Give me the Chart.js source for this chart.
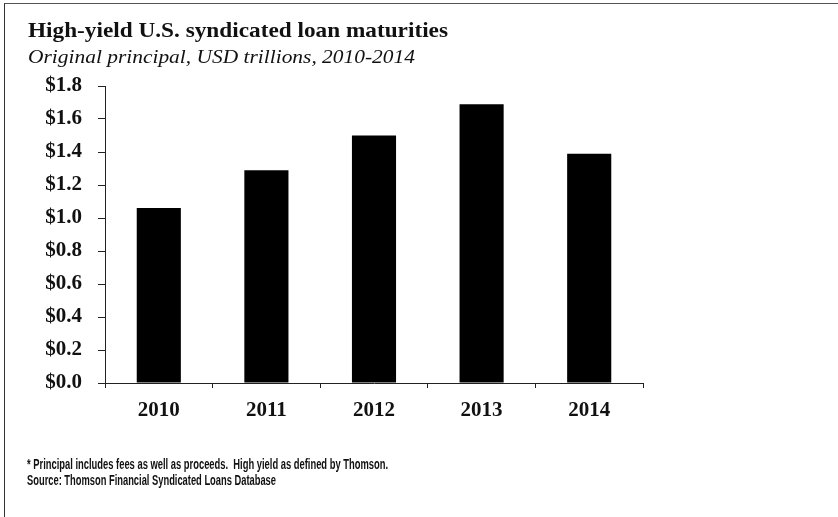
<!DOCTYPE html>
<html><head><meta charset="utf-8">
<script src="https://cdn.jsdelivr.net/npm/chart.js@4.4.1/dist/chart.umd.min.js"></script>
<style>
html,body{margin:0;padding:0;background:#fff;}
#wrap{position:relative;width:838px;height:517px;overflow:hidden;background:#fff;}
#frame{position:absolute;left:4px;top:3px;width:850px;height:530px;border-left:1.5px solid #333;border-top:1.5px solid #555;box-sizing:border-box;}
canvas{position:absolute;left:0;top:0;}
.t{position:absolute;white-space:nowrap;transform-origin:0 0;color:#111;line-height:1;}
#title{left:28px;top:20px;font-family:"Liberation Serif";font-weight:bold;font-size:21px;}
#subtitle{left:28px;top:47px;font-family:"Liberation Serif";font-style:italic;font-size:19px;}
.fn{left:27px;font-family:"Liberation Sans";font-weight:bold;font-size:14px;}
#fn1{top:457px;}
#fn2{top:473px;}
</style></head>
<body>
<div id="wrap">
  <div id="frame"></div>
  <canvas id="c" width="838" height="517"></canvas>
  <div class="t" id="title" data-w="420">High-yield U.S. syndicated loan maturities</div>
  <div class="t" id="subtitle" data-w="387">Original principal, USD trillions, 2010-2014</div>
  <div class="t fn" id="fn1" data-w="361">* Principal includes fees as well as proceeds.&nbsp; High yield as defined by Thomson.</div>
  <div class="t fn" id="fn2" data-w="249">Source: Thomson Financial Syndicated Loans Database</div>
</div>
<script>
const categories = ['2010', '2011', '2012', '2013', '2014'];
const principal = [1.06, 1.29, 1.50, 1.69, 1.39];
const yMin = 0, yMax = 1.8, yStep = 0.2;

document.querySelectorAll('[data-w]').forEach(el => {
  const w = el.getBoundingClientRect().width;
  const target = parseFloat(el.dataset.w);
  el.style.transform = 'scaleX(' + (target / w) + ')';
});

const axisColor = '#222';
const tickFont = { family: 'Liberation Serif', weight: 'bold', size: 21 };

new Chart(document.getElementById('c'), {
  type: 'bar',
  data: {
    labels: categories,
    datasets: [{
      data: principal,
      backgroundColor: '#000',
      borderWidth: 0,
      categoryPercentage: 1,
      barPercentage: 0.41
    }]
  },
  options: {
    responsive: false,
    animation: false,
    devicePixelRatio: 1,
    layout: { padding: { left: 0, top: 86, right: 195, bottom: 84 } },
    plugins: { legend: { display: false }, tooltip: { enabled: false }, title: { display: false } },
    scales: {
      x: {
        offset: true,
        grid: { display: true, drawOnChartArea: false, drawTicks: true, tickLength: 5, color: axisColor, offset: true },
        border: { display: true, color: axisColor, width: 1 },
        ticks: { font: tickFont, color: '#111', padding: 10, maxRotation: 0 },
        afterFit(s) { s.height = 50; }
      },
      y: {
        min: yMin, max: yMax,
        grid: { display: true, drawOnChartArea: false, drawTicks: true, tickLength: 7, color: axisColor },
        border: { display: true, color: axisColor, width: 1 },
        ticks: { stepSize: yStep, font: tickFont, color: '#111', padding: 16, autoSkip: false,
                 callback: v => '$' + Number(v).toFixed(1) },
        afterFit(s) { s.width = 105; }
      }
    }
  }
});
</script>
</body></html>
